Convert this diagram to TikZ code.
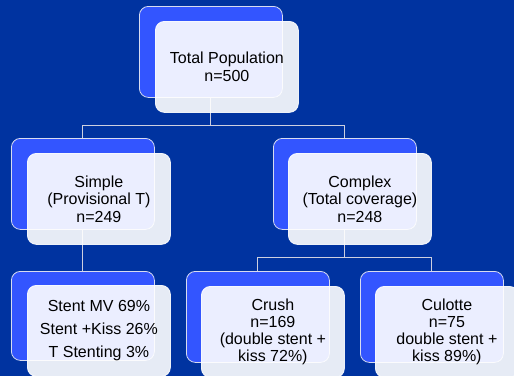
\documentclass[tikz,border=0pt]{standalone}
\usepackage{fontspec}
\setmainfont{Liberation Sans}
\definecolor{bgblue}{HTML}{0033A0}
\definecolor{boxblue}{HTML}{3355FF}
\definecolor{linegray}{HTML}{CDD0E0}
\definecolor{edgegray}{HTML}{D8DCF0}
\begin{document}
\begin{tikzpicture}[x=1pt,y=-1pt,
  backbox/.style={draw=edgegray, line width=0.8pt, fill=boxblue,
    rounded corners=9pt, minimum width=143pt, minimum height=91pt,
    anchor=north west, inner sep=0pt},
  frontbox/.style={draw=white, line width=0.8pt, fill=white, fill opacity=0.9,
    text opacity=1, draw opacity=0.9, rounded corners=9pt,
    minimum width=143pt, minimum height=91pt, anchor=north west,
    inner sep=0pt, align=center, text=black,
    font=\fontsize{16}{17.5}\selectfont},
  link/.style={draw=linegray, line width=0.9pt}]
  % canvas
  \clip (0,0) rectangle (514,376);
  \fill[bgblue] (0,0) rectangle (514,376);

  % rear (blue) boxes
  \node[backbox] (bTop)     at (139,6)   {};
  \node[backbox] (bSimple)  at (11,138)  {};
  \node[backbox] (bComplex) at (273,138) {};
  \node[backbox, minimum height=89pt] (bStent) at (11,271) {};
  \node[backbox] (bCrush)   at (186,271) {};
  \node[backbox] (bCulotte) at (360,271) {};

  % tree connectors
  \coordinate (barA) at (0,125);
  \coordinate (barB) at (0,257.5);
  \draw[link] (bTop.south) -- (bTop.south |- barA);
  \draw[link] (bSimple.north) -- (bSimple.north |- barA)
              -- (bComplex.north |- barA) -- (bComplex.north);
  \draw[link] (bSimple.south) -- (bStent.north);
  \draw[link] (bComplex.south) -- (bComplex.south |- barB);
  \draw[link] (bCrush.north) -- (bCrush.north |- barB)
              -- (bCulotte.north |- barB) -- (bCulotte.north);

  % front (text) boxes
  \node[frontbox] (fTop) at (155,21) {Total Population\\n=500};
  \node[frontbox] (fSimple) at (27,153) {Simple\\(Provisional T)\\n=249};
  \node[frontbox] (fComplex) at (288,153) {Complex\\(Total coverage)\\n=248};
  \node[frontbox, font=\fontsize{16}{23}\selectfont] (fStent) at (27,285)
    {Stent MV 69\%\\Stent +Kiss 26\%\\T Stenting 3\%};
  \node[frontbox, font=\fontsize{16}{16.8}\selectfont] (fCrush) at (201,286)
    {Crush\\n=169\\(double stent +\\kiss 72\%)};
  \node[frontbox, font=\fontsize{16}{16.8}\selectfont] (fCulotte) at (375,286)
    {Culotte\\n=75\\double stent +\\kiss 89\%)};
\end{tikzpicture}
\end{document}
